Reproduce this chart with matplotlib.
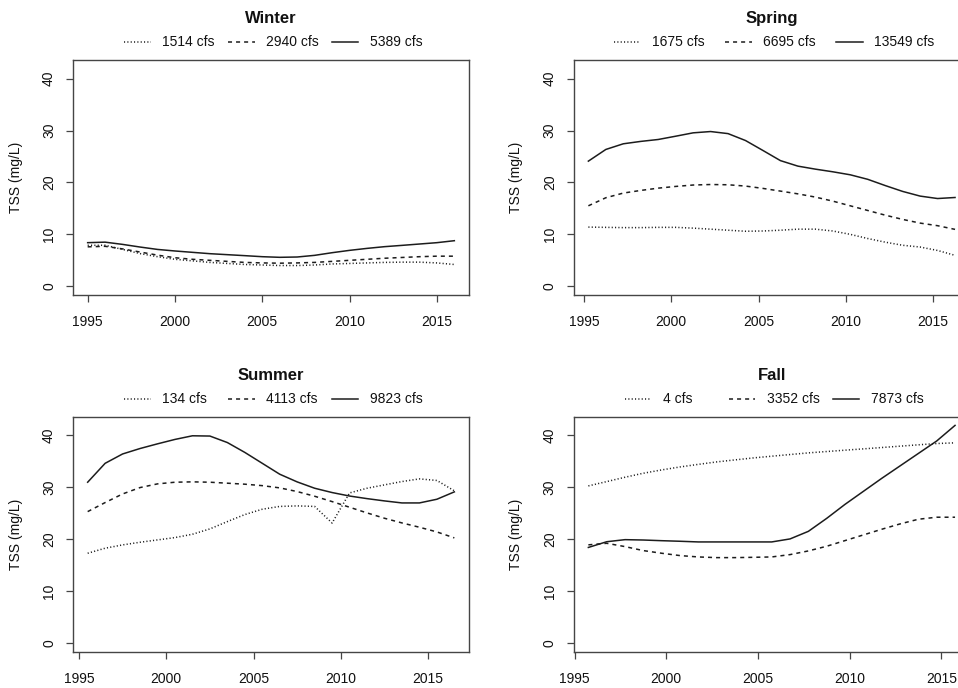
import numpy as np
import matplotlib
matplotlib.use("Agg")
import matplotlib.pyplot as plt
from matplotlib.lines import Line2D

plt.rcParams["font.family"] = ["Liberation Sans", "DejaVu Sans"]
plt.rcParams["lines.scale_dashes"] = False

# ---- data: TSS (mg/L) by season, three flow levels each ----
seasons = ["Winter", "Spring", "Summer", "Fall"]
flow_labels = {
    "Winter": ["1514 cfs", "2940 cfs", "5389 cfs"],
    "Spring": ["1675 cfs", "6695 cfs", "13549 cfs"],
    "Summer": ["134 cfs", "4113 cfs", "9823 cfs"],
    "Fall": ["4 cfs", "3352 cfs", "7873 cfs"],
}

winter_years = [1995, 1996, 1997, 1998, 1999, 2000, 2001, 2002, 2003, 2004, 2005,
                2006, 2007, 2008, 2009, 2010, 2011, 2012, 2013, 2014, 2015, 2016]
winter_low = [7.9, 7.9, 7.1, 6.3, 5.7, 5.2, 4.9, 4.6, 4.4, 4.2, 4.1,
              4.0, 4.0, 4.1, 4.3, 4.4, 4.5, 4.6, 4.65, 4.65, 4.5, 4.2]
winter_mid = [7.6, 7.7, 7.2, 6.6, 6.0, 5.5, 5.2, 5.0, 4.8, 4.6, 4.5,
              4.45, 4.5, 4.6, 4.8, 5.0, 5.2, 5.4, 5.55, 5.7, 5.8, 5.8]
winter_high = [8.4, 8.5, 8.07, 7.56, 7.1, 6.8, 6.54, 6.28, 6.09, 5.9, 5.7,
               5.58, 5.64, 5.96, 6.47, 6.92, 7.3, 7.63, 7.88, 8.14, 8.4, 8.78]

spring_years = [1995.25, 1996.25, 1997.25, 1998.25, 1999.25, 2000.25, 2001.25,
                2002.25, 2003.25, 2004.25, 2005.25, 2006.25, 2007.25, 2008.25,
                2009.25, 2010.25, 2011.25, 2012.25, 2013.25, 2014.25, 2015.25, 2016.25]
spring_low = [11.4, 11.35, 11.3, 11.3, 11.35, 11.35, 11.2, 11.0, 10.8, 10.6, 10.65,
              10.8, 11.0, 11.0, 10.65, 10.0, 9.2, 8.5, 7.9, 7.56, 6.9, 5.96]
spring_mid = [15.5, 17.05, 17.95, 18.46, 18.9, 19.23, 19.5, 19.6, 19.55, 19.3, 18.85,
              18.33, 17.8, 17.18, 16.4, 15.5, 14.6, 13.7, 12.88, 12.17, 11.67, 10.96]
spring_high = [24.1, 26.35, 27.44, 27.9, 28.27, 28.9, 29.55, 29.8, 29.4, 28.07, 26.15,
               24.2, 23.14, 22.56, 22.05, 21.47, 20.6, 19.4, 18.27, 17.37, 16.9, 17.1]

summer_years = [1995.5, 1996.5, 1997.5, 1998.5, 1999.5, 2000.5, 2001.5, 2002.5,
                2003.5, 2004.5, 2005.5, 2006.5, 2007.5, 2008.5, 2009.5, 2010.5,
                2011.5, 2012.5, 2013.5, 2014.5, 2015.5, 2016.5]
summer_low = [17.28, 18.25, 18.89, 19.4, 19.85, 20.3, 20.94, 21.97, 23.38, 24.73, 25.76,
              26.3, 26.4, 26.3, 23.1, 28.9, 29.8, 30.45, 31.09, 31.6, 31.3, 29.3]
summer_mid = [25.3, 27.04, 28.7, 29.93, 30.64, 30.96, 31.03, 30.96, 30.77, 30.58, 30.3,
              29.87, 29.16, 28.26, 27.23, 26.14, 25.05, 24.02, 23.12, 22.29, 21.39, 20.24]
summer_high = [30.96, 34.6, 36.4, 37.45, 38.35, 39.2, 39.9, 39.85, 38.6, 36.7, 34.6,
               32.5, 31.02, 29.8, 28.97, 28.3, 27.8, 27.36, 26.97, 26.97, 27.68, 29.1]

fall_years = [1995.75, 1996.75, 1997.75, 1998.75, 1999.75, 2000.75, 2001.75,
              2002.75, 2003.75, 2004.75, 2005.75, 2006.75, 2007.75, 2008.75,
              2009.75, 2010.75, 2011.75, 2012.75, 2013.75, 2014.75, 2015.75]
fall_low = [30.25, 31.08, 31.92, 32.69, 33.33, 33.9, 34.4, 34.87, 35.26, 35.64, 35.97,
            36.29, 36.61, 36.87, 37.13, 37.38, 37.64, 37.9, 38.16, 38.41, 38.54]
fall_mid = [18.9, 19.2, 18.56, 17.79, 17.28, 16.83, 16.57, 16.44, 16.44, 16.5, 16.57,
            17.02, 17.73, 18.63, 19.72, 20.81, 21.9, 22.93, 23.83, 24.22, 24.22]
fall_high = [18.4, 19.5, 19.9, 19.83, 19.7, 19.59, 19.46, 19.46, 19.46, 19.46, 19.46,
             20.04, 21.5, 24.0, 26.7, 29.2, 31.7, 34.1, 36.5, 38.9, 41.9]

series = {
    "Winter": (winter_years, [winter_low, winter_mid, winter_high]),
    "Spring": (spring_years, [spring_low, spring_mid, spring_high]),
    "Summer": (summer_years, [summer_low, summer_mid, summer_high]),
    "Fall": (fall_years, [fall_low, fall_mid, fall_high]),
}

x_ticks = [1995, 2000, 2005, 2010, 2015]
y_ticks = [0, 10, 20, 30, 40]
y_label = "TSS (mg/L)"

# ---- layout (pixel boxes: left, right, top, bottom) ----
W, H = 958, 688
DPI = 100
boxes = {
    "Winter": (73, 469, 60, 295),
    "Spring": (573.7, 969.7, 60, 295),
    "Summer": (73, 469, 416.7, 651.7),
    "Fall": (573.7, 969.7, 416.7, 651.7),
}
ink = "#1c1c1c"
frame = "#454545"
styles = [
    dict(linestyle=(0, (0.8, 1.6))),
    dict(linestyle=(0, (2.9, 2.9))),
    dict(linestyle="-"),
]

fig = plt.figure(figsize=(W / DPI, H / DPI), dpi=DPI)
renderer = fig.canvas.get_renderer()

y_max = max(max(v) for _, vals in series.values() for v in vals)
ylim = (-0.04 * y_max, 1.04 * y_max)

for season in seasons:
    l, r, t, b = boxes[season]
    aw, ah = r - l, b - t
    ax = fig.add_axes([l / W, 1 - b / H, aw / W, ah / H])
    years, vals = series[season]
    for v, st in zip(vals, styles):
        ax.plot(years, v, color=ink, lw=1.1, **st)
    span = years[-1] - years[0]
    ax.set_xlim(years[0] - 0.04 * span, years[-1] + 0.04 * span)
    ax.set_ylim(*ylim)
    ax.set_xticks(x_ticks)
    ax.set_yticks(y_ticks)
    ax.set_xticklabels([str(x) for x in x_ticks])
    ax.set_yticklabels([str(y) for y in y_ticks])
    for sp in ax.spines.values():
        sp.set_color(frame)
        sp.set_linewidth(1.0)
    ax.tick_params(direction="out", length=5.2, width=0.9, color=frame,
                   labelsize=10, labelcolor="#111111")
    ax.tick_params(axis="x", pad=9.5)
    ax.tick_params(axis="y", pad=7.0)
    for lab in ax.get_yticklabels():
        lab.set_rotation(90)
        lab.set_va("center")
    ax.set_ylabel(y_label, fontsize=10, color="#111111")
    ax.yaxis.set_label_coords(-50.5 / aw, 0.5)

    # title
    ax.text(0.5, 1 + 41.7 / ah, season, transform=ax.transAxes, ha="center",
            va="center", fontsize=12, fontweight="bold", color="#111111")

    # horizontal legend above the box
    labels = flow_labels[season]
    texts = [ax.text(0, 0, s, fontsize=10, transform=ax.transAxes) for s in labels]
    widths = [tx.get_window_extent(renderer).width for tx in texts]
    for tx in texts:
        tx.remove()
    seg, gap_text, gap_next = 26.5, 38.0, 13.0
    step = gap_text + max(widths) + gap_next
    total = 2 * step + gap_text + widths[-1]
    x0 = aw / 2 + 2.5 - total / 2
    ly = 1 + 17.7 / ah
    for i, (s, st) in enumerate(zip(labels, styles)):
        xs = x0 + i * step
        ax.add_line(Line2D([xs / aw, (xs + seg) / aw], [ly, ly], transform=ax.transAxes,
                           color=ink, lw=1.1, clip_on=False, **st))
        ax.text((xs + gap_text) / aw, ly, s, transform=ax.transAxes, ha="left",
                va="center", fontsize=10, color="#111111")

fig.savefig("out.png", dpi=DPI)
